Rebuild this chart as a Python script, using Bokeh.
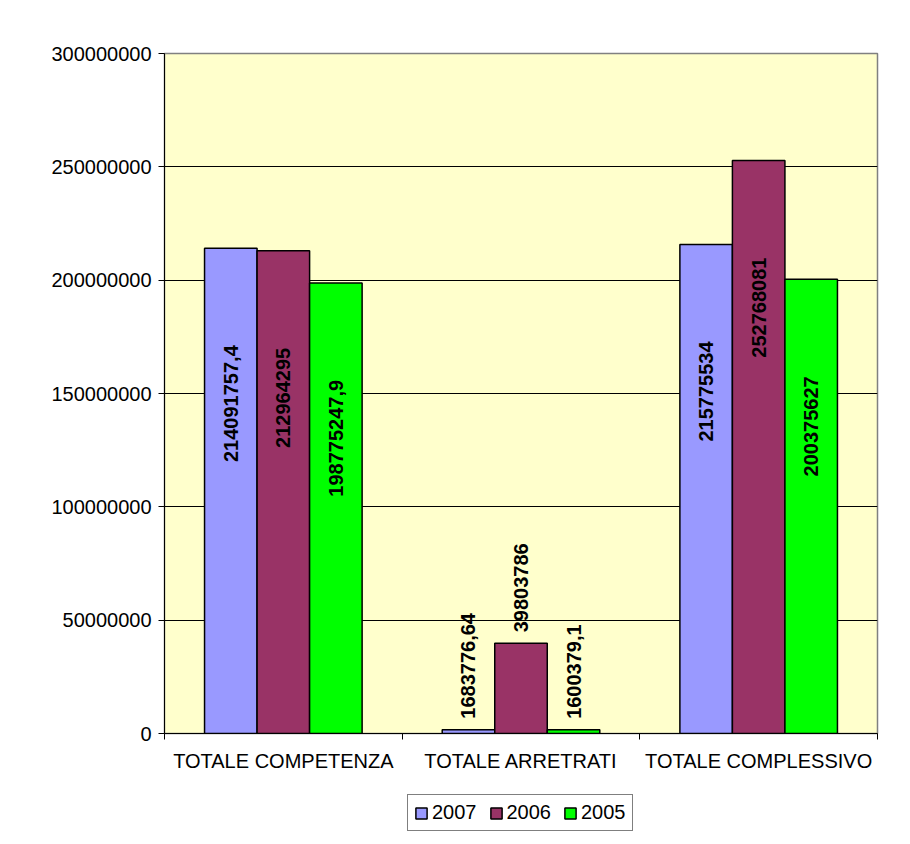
import math
from bokeh.plotting import figure
from bokeh.layouts import column
from bokeh.models import (ColumnDataSource, FixedTicker, NumeralTickFormatter, Legend, LegendItem,
                          Range1d)
from bokeh.core.properties import value
from bokeh.embed import file_html
from bokeh.resources import INLINE

categories = ["TOTALE COMPETENZA", "TOTALE ARRETRATI", "TOTALE COMPLESSIVO"]
years = ["2007", "2006", "2005"]
values_2007 = [214091757.4, 1683776.64, 215775534]
values_2006 = [212964295, 39803786, 252768081]
values_2005 = [198775247.9, 1600379.1, 200375627]
colors = ["#9999FF", "#993366", "#00FF00"]
y_ticks = [0, 50000000, 100000000, 150000000, 200000000, 250000000, 300000000]

FONT = "Liberation Sans"
series = [values_2007, values_2006, values_2005]
bar_w = 0.221

p = figure(frame_width=713, frame_height=680, output_backend="svg", toolbar_location=None,
           x_range=Range1d(0, 3), y_range=Range1d(0, 300000000),
           min_border_left=164, min_border_right=25, min_border_top=53, min_border_bottom=50)
p.background_fill_color = "#FFFFCC"
p.border_fill_color = "white"
p.outline_line_color = "#808080"
p.outline_line_width = 1.5

for j, (vals, col) in enumerate(zip(series, colors)):
    xs = [i + 0.5 + (j - 1) * bar_w for i in range(len(categories))]
    labels = [str(v).replace(".", ",") for v in vals]
    src = ColumnDataSource(dict(x=xs, top=vals, label=labels))
    p.vbar(x="x", top="top", width=bar_w, bottom=0, source=src,
           fill_color=col, line_color="black", line_width=1.5)
    inside = [k for k, v in enumerate(vals) if v >= 50000000]
    outside = [k for k, v in enumerate(vals) if v < 50000000]
    src_in = ColumnDataSource(dict(x=[xs[k] for k in inside], y=[vals[k] for k in inside],
                                   t=[labels[k] for k in inside]))
    src_out = ColumnDataSource(dict(x=[xs[k] for k in outside], y=[vals[k] for k in outside],
                                    t=[labels[k] for k in outside]))
    p.text(x="x", y="y", text="t", source=src_in, angle=math.pi / 2,
           text_align="right", text_baseline="middle", y_offset=97,
           text_font=value(FONT), text_font_size="20px", text_font_style="bold", text_color="black")
    p.text(x="x", y="y", text="t", source=src_out, angle=math.pi / 2,
           text_align="left", text_baseline="middle", y_offset=-11,
           text_font=value(FONT), text_font_size="20px", text_font_style="bold", text_color="black")

# y axis
p.yaxis.ticker = FixedTicker(ticks=y_ticks)
p.yaxis.formatter = NumeralTickFormatter(format="0")
p.yaxis.major_label_text_font = FONT
p.yaxis.major_label_text_font_size = "20px"
p.yaxis.major_label_text_color = "black"
p.yaxis.major_tick_out = 6
p.yaxis.major_tick_in = 0
p.yaxis.minor_tick_line_color = None
p.yaxis.axis_line_color = "black"
p.yaxis.major_tick_line_color = "black"
p.yaxis.major_label_standoff = 7

# x axis
p.xaxis.ticker = FixedTicker(ticks=[i + 0.5 for i in range(len(categories))],
                             minor_ticks=list(range(len(categories) + 1)))
p.xaxis.major_label_overrides = {i + 0.5: c for i, c in enumerate(categories)}
p.xaxis.major_label_text_font = FONT
p.xaxis.major_label_text_font_size = "20px"
p.xaxis.major_label_text_color = "black"
p.xaxis.major_tick_out = 0
p.xaxis.major_tick_in = 0
p.xaxis.minor_tick_out = 6
p.xaxis.minor_tick_in = 0
p.xaxis.minor_tick_line_color = "black"
p.xaxis.axis_line_color = "black"
p.xaxis.major_label_standoff = 10

p.xgrid.grid_line_color = None
p.ygrid.ticker = FixedTicker(ticks=y_ticks)
p.ygrid.grid_line_color = "black"
p.ygrid.grid_line_width = 1

# legend in a strip below the chart (its frame is aligned with the chart frame)
lg = figure(width=902, height=55, output_backend="svg", toolbar_location=None,
            x_axis_location=None, y_axis_location=None,
            x_range=Range1d(0, 1), y_range=Range1d(0, 1),
            min_border_left=0, min_border_right=0, min_border_top=0, min_border_bottom=0)
lg.outline_line_color = None
lg.xgrid.grid_line_color = None
lg.ygrid.grid_line_color = None
lg.background_fill_color = "white"
lg.border_fill_color = "white"
items = []
for y, col in zip(years, colors):
    # swatch-only renderers: a tiny bar hidden behind the opaque legend box
    r = lg.vbar(x=[0.5], top=[0.5], bottom=[0.35], width=0.02,
                fill_color=col, line_color="black", line_width=1.5)
    items.append(LegendItem(label=y, renderers=[r]))
legend = Legend(items=items, orientation="horizontal", location=(243, 7),
                glyph_width=14, glyph_height=14, label_standoff=4, spacing=12,
                padding=6, margin=0, border_line_color="black", border_line_width=1,
                background_fill_color="white", background_fill_alpha=1,
                label_text_font=FONT, label_text_font_size="20px", label_text_color="black",
                label_height=20)
lg.add_layout(legend, "center")

layout = column(p, lg, spacing=0)
open("out.html", "w").write(file_html(layout, INLINE))
